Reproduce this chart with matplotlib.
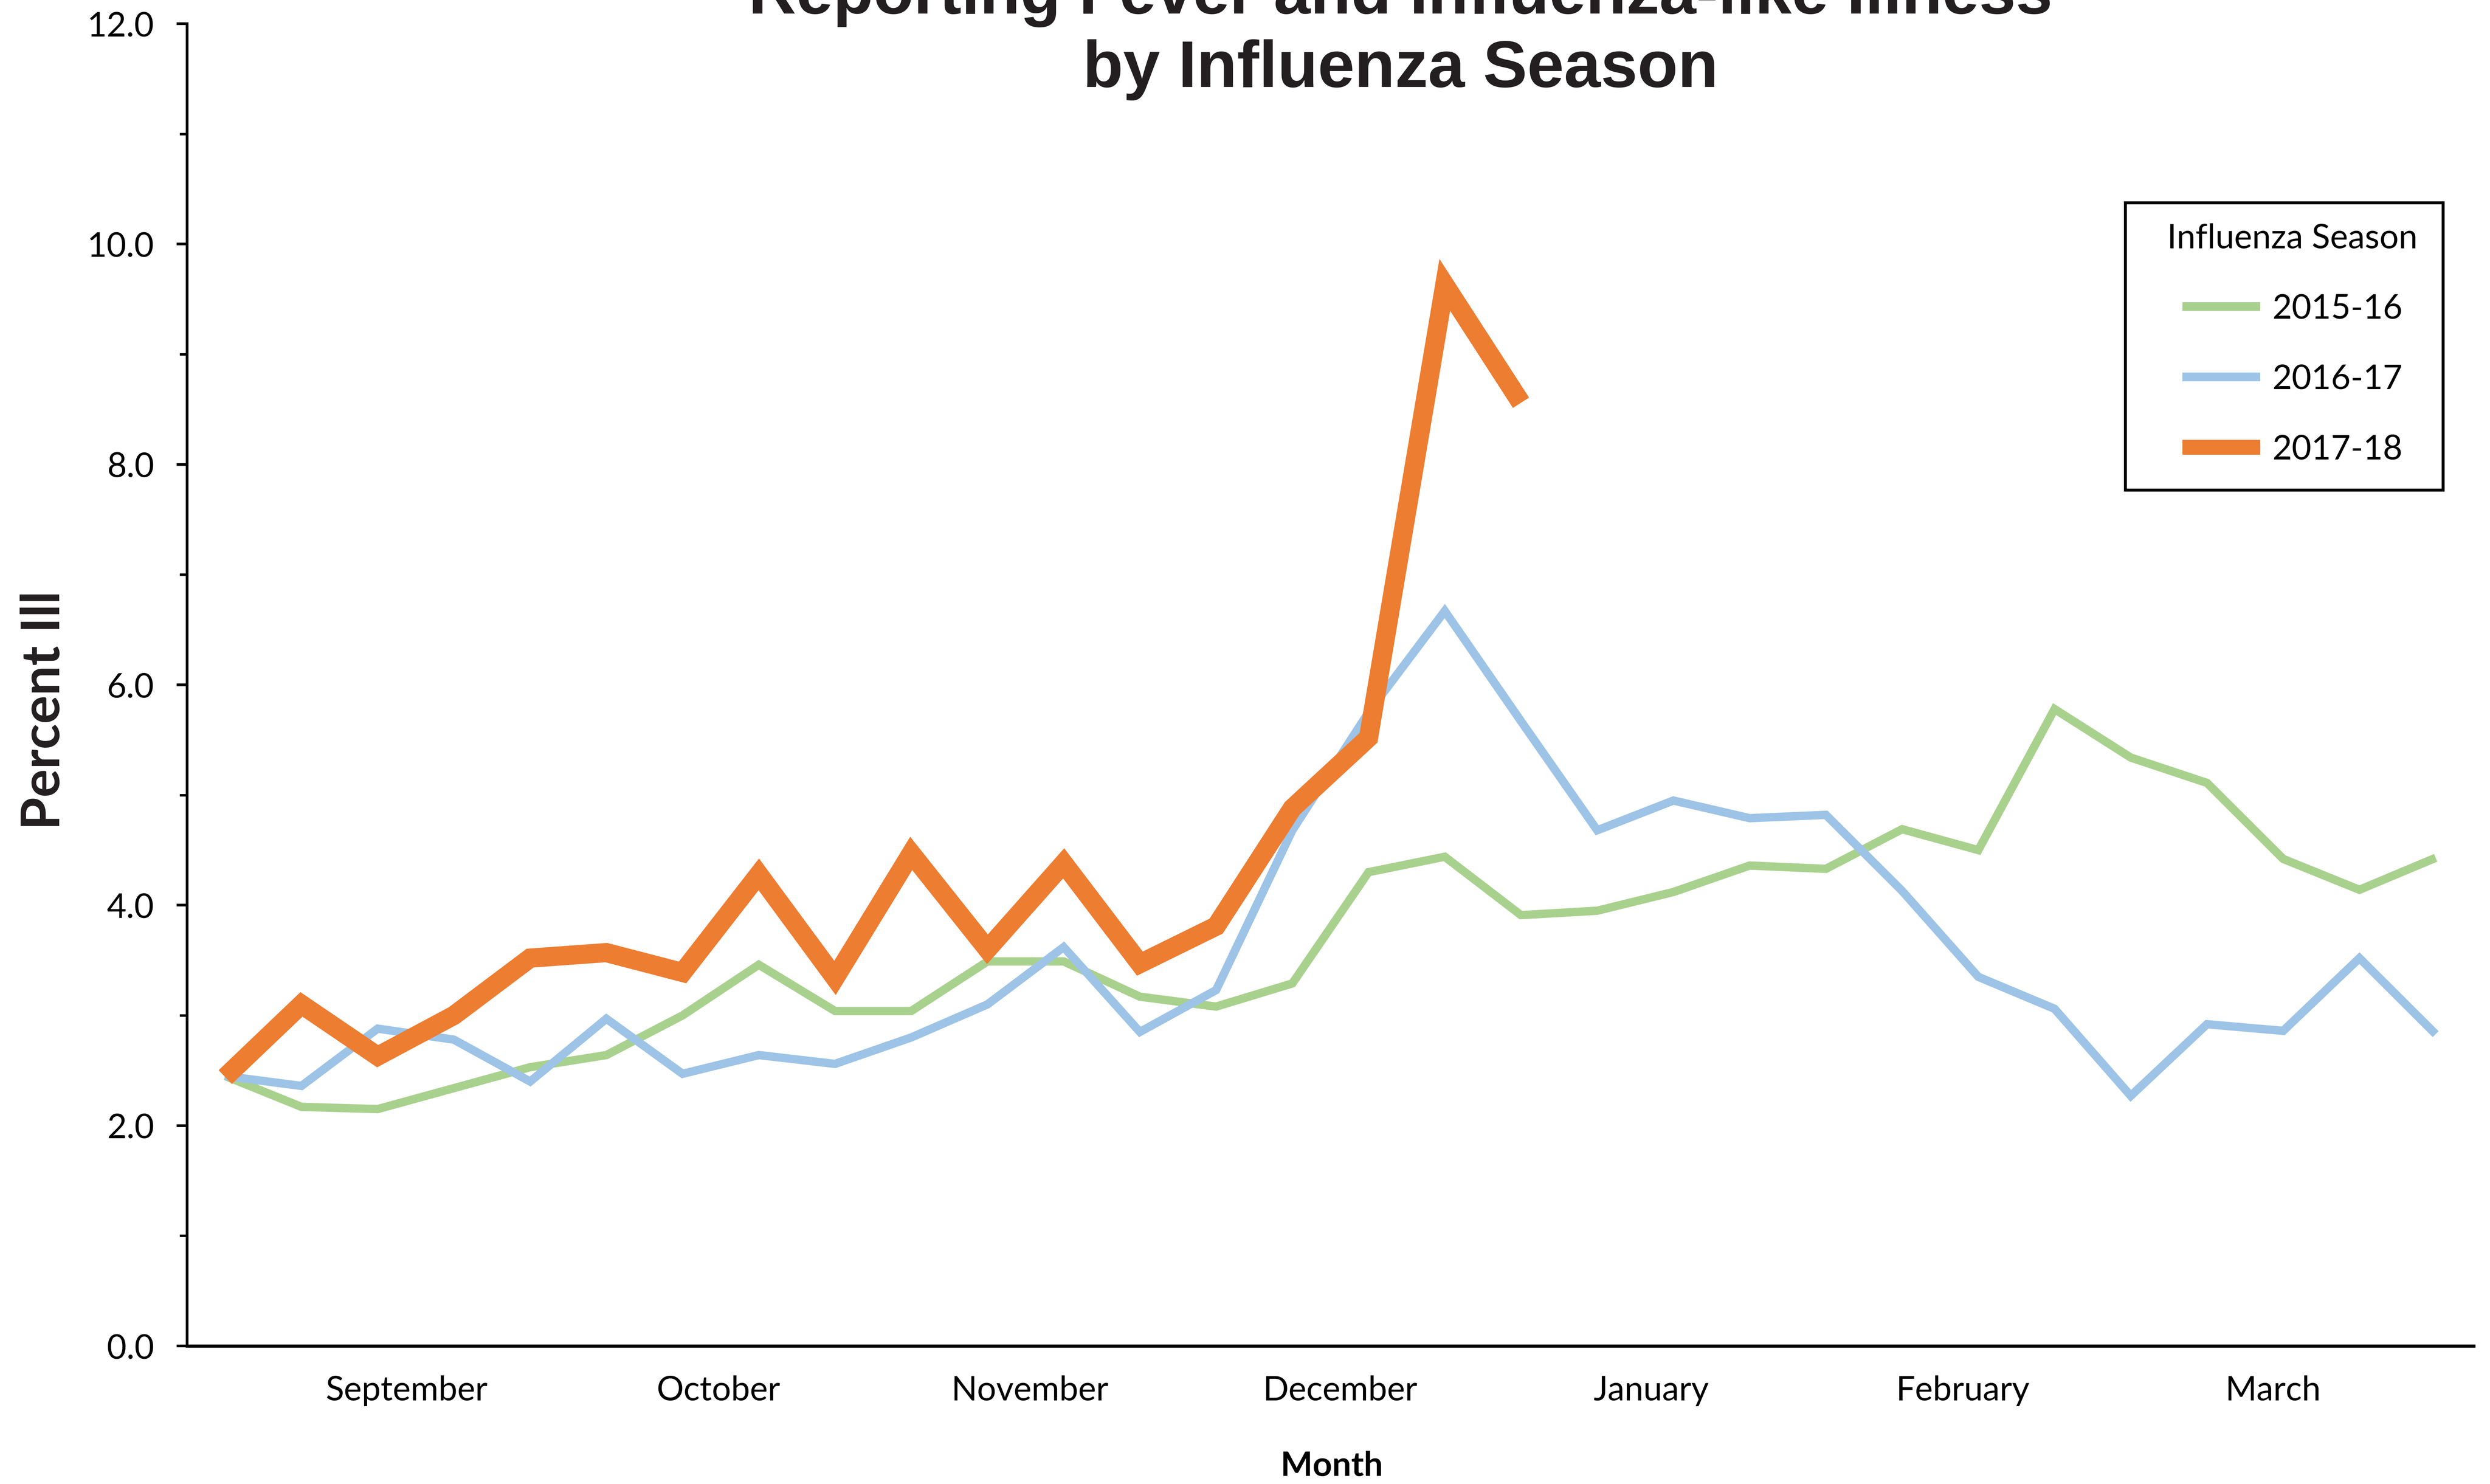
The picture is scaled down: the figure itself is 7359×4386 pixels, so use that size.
import matplotlib
matplotlib.use("Agg")
import matplotlib.pyplot as plt
from matplotlib.patches import Rectangle
from matplotlib.ticker import MultipleLocator, FormatStrFormatter

# ---------------- data ----------------
seasons = ["2015-16", "2016-17", "2017-18"]
season_2015_16 = [2.45, 2.17, 2.15, 2.34, 2.53, 2.64, 3.00, 3.46, 3.04, 3.04,
                  3.49, 3.49, 3.17, 3.08, 3.29, 4.30, 4.44, 3.91, 3.95, 4.12,
                  4.36, 4.33, 4.69, 4.50, 5.78, 5.34, 5.11, 4.42, 4.14, 4.43]
season_2016_17 = [2.45, 2.36, 2.88, 2.78, 2.40, 2.97, 2.47, 2.64, 2.56, 2.80,
                  3.10, 3.62, 2.85, 3.23, 4.68, 5.75, 6.67, 5.67, 4.68, 4.95,
                  4.79, 4.82, 4.13, 3.35, 3.06, 2.27, 2.92, 2.86, 3.52, 2.83]
season_2017_18 = [2.44, 3.10, 2.63, 3.00, 3.52, 3.57, 3.39, 4.28, 3.34, 4.47,
                  3.60, 4.38, 3.47, 3.81, 4.88, 5.52, 9.63, 8.56]
months = ["September", "October", "November", "December", "January",
          "February", "March"]
month_label_pos = [2.38, 6.47, 10.56, 14.63, 18.71, 22.80, 26.87]
title_lines = ["Reporting Fever and Influenza-like Illness", "by Influenza Season"]
y_label = "Percent Ill"
x_label = "Month"
legend_title = "Influenza Season"

colors = {"2015-16": "#A9D18E", "2016-17": "#9DC3E6", "2017-18": "#ED7D31"}
plot_lw = {"2015-16": 3.7, "2016-17": 3.7, "2017-18": 8.5}
legend_lw = {"2015-16": 3.9, "2016-17": 3.9, "2017-18": 6.6}
series = {"2015-16": season_2015_16, "2016-17": season_2016_17,
          "2017-18": season_2017_18}

TXT = "Lato"
DARK = "#231F20"

# ---------------- figure ----------------
fig = plt.figure(figsize=(7359 / 480, 4386 / 480), dpi=480)
ax = fig.add_axes([0.07515, 0.0930, 0.99348 - 0.07515, 0.98404 - 0.0930])

lines = []
for s in seasons:
    vals = series[s]
    (ln,) = ax.plot(range(len(vals)), vals, color=colors[s], lw=plot_lw[s],
                    solid_joinstyle="miter", solid_capstyle="butt", label=s)
    lines.append(ln)

ax.set_xlim(-0.5, 29.5)
ax.set_ylim(0, 12)

for side in ("top", "right"):
    ax.spines[side].set_visible(False)
ax.spines["left"].set_linewidth(1.2)
ax.spines["bottom"].set_linewidth(1.4)
ax.spines["left"].set_color("black")
ax.spines["bottom"].set_color("black")

ax.yaxis.set_major_locator(MultipleLocator(2))
ax.yaxis.set_minor_locator(MultipleLocator(1))
ax.yaxis.set_major_formatter(FormatStrFormatter("%.1f"))
ax.tick_params(axis="y", which="major", direction="out", length=4.65, width=1.2,
               pad=10, labelsize=15)
ax.tick_params(axis="y", which="minor", direction="out", length=3.3, width=1.1)
for t in ax.get_yticklabels():
    t.set_fontfamily(TXT)

ax.set_xticks(month_label_pos)
ax.set_xticklabels(months, fontfamily=TXT, fontsize=15)
ax.tick_params(axis="x", which="both", length=0, pad=13)

# axis titles
fig.text(3936 / 7359, 1 - 4362 / 4386, x_label, ha="center", va="baseline",
         fontfamily=TXT, fontweight="bold", fontsize=15, color="black")
fig.text(176 / 7359, 1 - 2100 / 4386, y_label, rotation=90, rotation_mode="anchor",
         ha="center", va="baseline", fontfamily=TXT, fontweight="bold",
         fontsize=23.5, color=DARK)

# chart title (top line partly cut off as in the reference)
fig.text(0.5625, 1 - 40 / 4386, title_lines[0], ha="center", va="baseline",
         fontfamily="Liberation Sans", fontweight="bold", fontsize=29.3, color=DARK)
fig.text(0.5625, 1 - 257 / 4386, title_lines[1], ha="center", va="baseline",
         fontfamily="Liberation Sans", fontweight="bold", fontsize=29.3, color=DARK)

# legend
leg = fig.legend(handles=lines, labels=seasons, title=legend_title,
                 loc="upper center", bbox_to_anchor=(6775 / 7359, 1 - 659 / 4386),
                 bbox_transform=fig.transFigure, frameon=False, borderpad=0,
                 fontsize=15, title_fontsize=15, handlelength=2.3,
                 handletextpad=0.35, labelspacing=1.17, borderaxespad=0,
                 prop={"family": TXT, "size": 15})
leg.get_title().set_fontfamily(TXT)
for ln, s in zip(leg.get_lines(), seasons):
    ln.set_linewidth(legend_lw[s])
    ln.set_solid_capstyle("butt")

fig.patches.append(Rectangle((6281 / 7359, 1 - 1448 / 4386),
                             (7220 - 6281) / 7359, (1448 - 599) / 4386,
                             transform=fig.transFigure, fill=False,
                             edgecolor="black", linewidth=1.3, zorder=5))

fig.savefig("out.png", dpi=480, facecolor="white")
